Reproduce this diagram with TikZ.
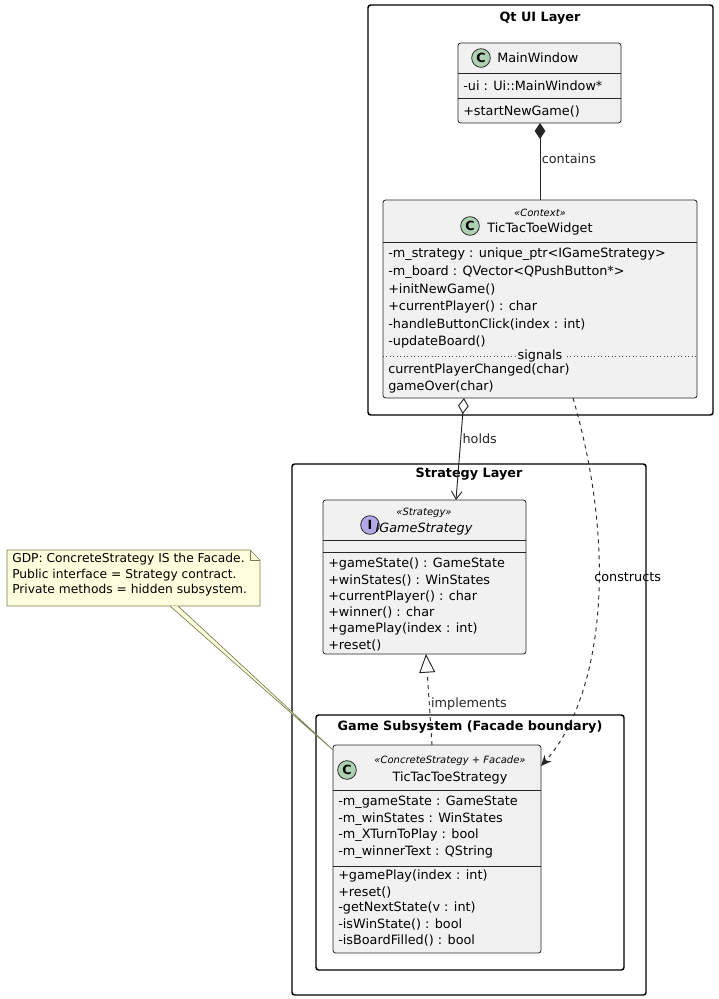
\documentclass[tikz,border=0pt]{standalone}
\usepackage{fontspec}
\setmainfont{DejaVu Sans}
\usetikzlibrary{arrows.meta}
\definecolor{boxfill}{HTML}{F1F1F1}
\definecolor{cgreen}{HTML}{ADD1B2}
\definecolor{ipurple}{HTML}{B4A7E5}
\definecolor{notefill}{HTML}{FEFFDD}
\definecolor{noteline}{HTML}{7A7A50}
\begin{document}
\begin{tikzpicture}[x=0.75pt,y=-0.75pt,
  every node/.style={font=\fontsize{9.6}{11}\selectfont, inner sep=0pt},
  frame/.style={draw=black, line width=1.1pt, rounded corners=2pt},
  ftitle/.style={font=\fontsize{9.6}{11}\selectfont\bfseries},
  cls/.style={draw=black!85, fill=boxfill, line width=0.6pt, rounded corners=2pt},
  row/.style={anchor=west},
  badge/.style={circle, draw=black!85, line width=0.6pt, minimum size=14pt, font=\fontsize{9.5}{10}\selectfont\bfseries},
  stereo/.style={font=\fontsize{7.5}{9}\selectfont\itshape},
  lbl/.style={font=\fontsize{9.6}{11}\selectfont, anchor=west},
  sep/.style={draw=black!85, line width=0.5pt}]
\useasboundingbox (0,0) rectangle (718,999);
% Frames
\draw[frame] (368,5) rectangle (713,415);
\node[ftitle] (tqt) at (540,18) {Qt UI Layer};
\draw[frame] (292,464) rectangle (646,995);
\node[ftitle] (tst) at (469,474) {Strategy Layer};
\draw[frame] (316,715) rectangle (624,970);
\node[ftitle] (tgs) at (470,727) {Game Subsystem (Facade boundary)};

% MainWindow
\draw[cls] (458,43) rectangle (621,123);
\node (mw) at (540,83) {};
\node[badge, fill=cgreen] (b1) at (481,58) {C};
\node[anchor=west] (mwn) at (497,58) {MainWindow};
\draw[sep] (458,73) -- (621,73);
\node[row] (mw1) at (463,86) {-ui : Ui::MainWindow*};
\draw[sep] (458,98) -- (621,98);
\node[row] (mw2) at (463,111) {+startNewGame()};
\coordinate (mwb) at (540,123);

% TicTacToeWidget
\draw[cls] (383,200) rectangle (697,398);
\node[badge, fill=cgreen] (b2) at (470,226) {C};
\node[stereo] (ws) at (540,213) {«Context»};
\node (wn) at (540,229) {TicTacToeWidget};
\draw[sep] (383,242) -- (697,242);
\foreach \t [count=\i] in {{-m\_strategy : unique\_ptr<IGameStrategy>},{-m\_board : QVector<QPushButton*>},{+initNewGame()},{+currentPlayer() : char},{-handleButtonClick(index : int)},{-updateBoard()}}
  \node[row] (w\i) at (388,237+17.5*\i) {\t};
\draw[black!70, dotted, line width=0.6pt] (383,356) -- (697,356);
\node[fill=boxfill, inner xsep=1pt] (sig) at (540,356) {signals};
\node[row] (w7) at (388,370) {currentPlayerChanged(char)};
\node[row] (w8) at (388,387) {gameOver(char)};
\coordinate (wt) at (540,200);
\coordinate (wb1) at (464,398);
\coordinate (wb2) at (573,398);

% IGameStrategy
\draw[cls] (323,500) rectangle (526,654);
\node[badge, fill=ipurple] (b3) at (370,525) {I};
\node[stereo] (is) at (424,513) {«Strategy»};
\node[font=\fontsize{9.6}{11}\selectfont\itshape] (in) at (424,529) {IGameStrategy};
\draw[sep] (323,540) -- (526,540);
\draw[sep] (323,552) -- (526,552);
\foreach \t [count=\i] in {{+gameState() : GameState},{+winStates() : WinStates},{+currentPlayer() : char},{+winner() : char},{+gamePlay(index : int)},{+reset()}}
  \node[row] (i\i) at (328,548+16.2*\i) {\t};
\coordinate (it) at (456,500);
\coordinate (ib) at (426,654);

% TicTacToeStrategy
\draw[cls] (333,745) rectangle (541,953);
\node[badge, fill=cgreen] (b4) at (347,770) {C};
\node[stereo] (ss) at (450,761) {«ConcreteStrategy + Facade»};
\node (sn) at (450,778) {TicTacToeStrategy};
\draw[sep] (333,790) -- (541,790);
\foreach \t [count=\i] in {{-m\_gameState : GameState},{-m\_winStates : WinStates},{-m\_XTurnToPlay : bool},{-m\_winnerText : QString}}
  \node[row] (s\i) at (338,786+16.5*\i) {\t};
\draw[sep] (333,866) -- (541,866);
\foreach \t [count=\i] in {{+gamePlay(index : int)},{+reset()},{-getNextState(v : int)},{-isWinState() : bool},{-isBoardFilled() : bool}}
  \node[row] (m\i) at (338,860+16*\i) {\t};
\coordinate (st) at (432,745);
\coordinate (str) at (541,766);
\coordinate (sl) at (333,750);

% Note
\draw[draw=noteline, fill=notefill, line width=0.5pt] (7,550) -- (250,550) -- (260,560) -- (260,606) -- (7,606) -- cycle;
\draw[draw=noteline, line width=0.5pt] (250,550) -- (250,560) -- (260,560);
\node[anchor=north west, align=left, font=\fontsize{9.2}{11.6}\selectfont] (note) at (12,553) {GDP: ConcreteStrategy IS the Facade.\\Public interface = Strategy contract.\\Private methods = hidden subsystem.};
\draw[noteline, line width=0.5pt, fill=notefill] (170,606) -- (sl) -- (178,606);

% Connectors
\draw[black!85, line width=0.7pt, {Diamond[fill=black!85,length=12pt,width=8pt]}-] (mwb) -- (wt) node[pos=0.47, lbl, xshift=1pt] (lc) {contains};
\draw[black!85, line width=0.7pt, {Diamond[open,fill=white,length=12pt,width=8pt]}-{Straight Barb[length=6pt,width=8pt]}] (wb1) -- (it) node[pos=0.4, lbl, xshift=1pt] (lh) {holds};
\draw[black!85, line width=0.7pt, dashed, -{Stealth[length=8pt,width=7pt]}] (wb2) .. controls (620,560) and (600,700) .. (str);
\node[lbl] (lco) at (594,577) {constructs};
\draw[black!85, line width=0.7pt, dashed, -{Triangle[open,fill=white,length=14pt,width=12pt]}] (st) -- (ib) node[pos=0.45, lbl, xshift=1pt] (li) {implements};
\end{tikzpicture}
\end{document}
